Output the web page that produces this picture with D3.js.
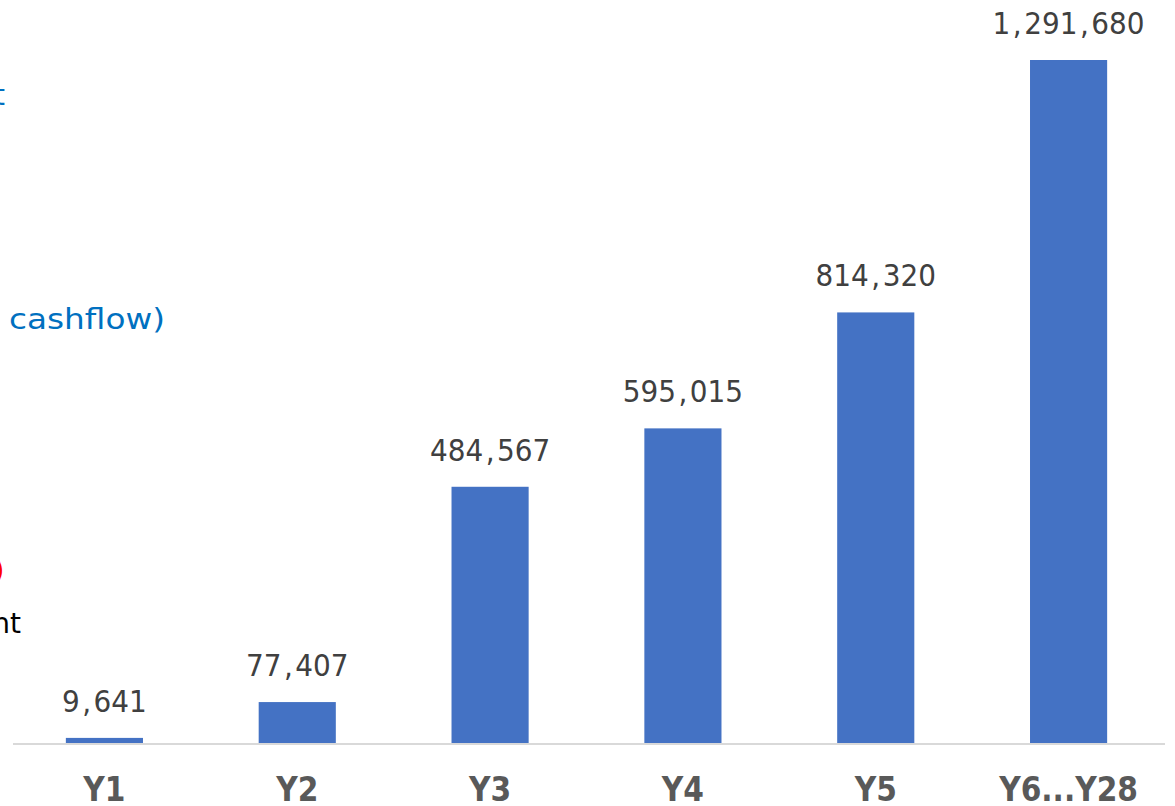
<!DOCTYPE html>
<html>
<head>
<meta charset="utf-8">
<script src="https://cdn.jsdelivr.net/npm/d3@7"></script>
<style>
  body { margin: 0; background: #fff; overflow: hidden; }
</style>
</head>
<body>
<script>
var width = 1175,
  height = 806;

var categories = ["Y1", "Y2", "Y3", "Y4", "Y5", "Y6...Y28"];
var values = [9641, 77407, 484567, 595015, 814320, 1291680];

var svg = d3
  .select("body")
  .append("svg")
  .attr("width", width)
  .attr("height", height)
  .style("background", "white");

var x = d3
  .scaleBand()
  .domain(categories)
  .range([8, 1165])
  .paddingInner(0.6)
  .paddingOuter(0.3);

var y = d3
  .scaleLinear()
  .domain([0, d3.max(values)])
  .range([743, 60]);

var data = categories.map(function (c, i) {
  return { cat: c, val: values[i] };
});

// bits of slide text cut off at the left edge
svg.append("text")
  .attr("x", 5)
  .attr("y", 105)
  .attr("text-anchor", "end")
  .style("font-family", "DejaVu Sans")
  .style("font-size", "28px")
  .style("fill", "#0070c0")
  .text("t");
svg.append("text")
  .attr("x", 9)
  .attr("y", 329)
  .attr("textLength", 156)
  .attr("lengthAdjust", "spacingAndGlyphs")
  .style("font-family", "DejaVu Sans")
  .style("font-size", "29px")
  .style("fill", "#0070c0")
  .text("cashflow)");
svg.append("text")
  .attr("x", 4.5)
  .attr("y", 580)
  .attr("text-anchor", "end")
  .style("font-family", "DejaVu Sans")
  .style("font-size", "28px")
  .style("fill", "#ff0000")
  .text(")");
svg.append("text")
  .attr("x", 21)
  .attr("y", 633)
  .attr("text-anchor", "end")
  .style("font-family", "DejaVu Sans")
  .style("font-size", "28px")
  .style("fill", "#000000")
  .text("nt");

// bars
svg.append("g")
  .selectAll("rect")
  .data(data)
  .enter()
  .append("rect")
  .attr("x", function (d) { return x(d.cat); })
  .attr("y", function (d) { return y(d.val); })
  .attr("width", x.bandwidth())
  .attr("height", function (d) { return y(0) - y(d.val); })
  .attr("fill", "#4472c4");

// baseline
svg.append("line")
  .attr("x1", 13)
  .attr("x2", 1165)
  .attr("y1", 744)
  .attr("y2", 744)
  .attr("stroke", "#d9d9d9")
  .attr("stroke-width", 2);

// value labels (commas get a bit more room, like the original font)
var fmt = d3.format(",");
svg.append("g")
  .selectAll("text")
  .data(data)
  .enter()
  .append("text")
  .attr("x", function (d) { return x(d.cat) + x.bandwidth() / 2; })
  .attr("y", function (d) { return y(d.val) - 26; })
  .attr("text-anchor", "middle")
  .style("font-family", "DejaVu Sans Condensed")
  .style("font-size", "31px")
  .style("fill", "#404040")
  .each(function (d) {
    var t = d3.select(this);
    fmt(d.val).split(",").forEach(function (part, i) {
      if (i > 0) t.append("tspan").attr("dx", 2.5).text(",");
      t.append("tspan").attr("dx", i > 0 ? 2.5 : 0).text(part);
    });
  });

// category labels
svg.append("g")
  .selectAll("text")
  .data(categories)
  .enter()
  .append("text")
  .attr("x", function (d) { return x(d) + x.bandwidth() / 2; })
  .attr("y", 801)
  .attr("text-anchor", "middle")
  .style("font-family", "DejaVu Sans Condensed")
  .style("font-size", "33px")
  .style("font-weight", "bold")
  .style("fill", "#595959")
  .text(function (d) { return d; });
</script>
</body>
</html>
